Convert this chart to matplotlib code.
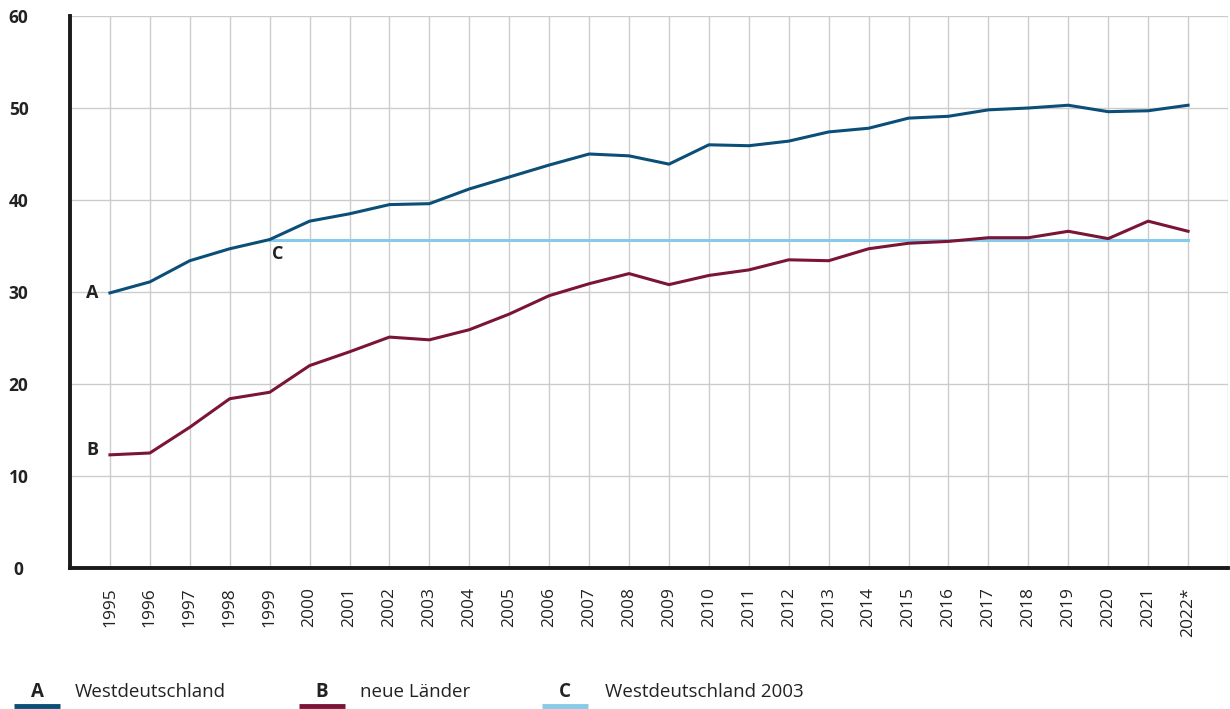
import matplotlib
matplotlib.use("Agg")
import matplotlib.pyplot as plt

plt.rcParams['font.family'] = ['Open Sans', 'DejaVu Sans']

# Jahre und Werte (Prozent)
years = list(range(1995, 2023))
year_labels = [str(y) for y in years[:-1]] + ["2022*"]

west = [29.9, 31.1, 33.4, 34.7, 35.7, 37.7, 38.5, 39.5, 39.6, 41.2,
        42.5, 43.8, 45.0, 44.8, 43.9, 46.0, 45.9, 46.4, 47.4, 47.8,
        48.9, 49.1, 49.8, 50.0, 50.3, 49.6, 49.7, 50.3]
neue_laender = [12.3, 12.5, 15.3, 18.4, 19.1, 22.0, 23.5, 25.1, 24.8, 25.9,
                27.6, 29.6, 30.9, 32.0, 30.8, 31.8, 32.4, 33.5, 33.4, 34.7,
                35.3, 35.5, 35.9, 35.9, 36.6, 35.8, 37.7, 36.6]
ref_start = 1999
ref_value = 35.6

yticks = [0, 10, 20, 30, 40, 50, 60]

col_a = '#0b4f78'
col_b = '#7b1535'
col_c = '#86cbea'
txt = '#222222'

fig = plt.figure(figsize=(12.3, 7.09), dpi=100)
ax = fig.add_axes([70 / 1230, 1 - 568 / 709, 1158 / 1230, 552 / 709])

ref_years = [y for y in years if y >= ref_start]
ax.plot(ref_years, [ref_value] * len(ref_years), color=col_c, lw=2.2, zorder=3)
ax.plot(years, west, color=col_a, lw=2.2, zorder=4)
ax.plot(years, neue_laender, color=col_b, lw=2.2, zorder=4)

ax.set_xlim(1994, 2023)
ax.set_ylim(0, 60)
ax.set_xticks(years + [2023])
ax.set_xticklabels(year_labels + [""], rotation=90, fontsize=12.5, color=txt)
ax.set_yticks(yticks)
ax.set_yticklabels([str(v) for v in yticks], fontsize=12.5, fontweight='bold',
                   color=txt, ha='center')
ax.tick_params(axis='x', length=0, pad=14)
ax.tick_params(axis='y', length=0, pad=37)
for lbl in ax.get_xticklabels():
    lbl.set_va('top')

ax.grid(True, color='#cccccc', lw=1)
ax.set_axisbelow(True)
for side in ['top', 'right']:
    ax.spines[side].set_visible(False)
for side in ['left', 'bottom']:
    ax.spines[side].set_linewidth(2.8)
    ax.spines[side].set_color('#1a1a1a')

# Kennbuchstaben an den Linien
ax.text(1994.55, west[0], "A", fontsize=13, fontweight='bold', color=txt,
        ha='center', va='center')
ax.text(1994.55, neue_laender[0] + 0.5, "B", fontsize=13, fontweight='bold',
        color=txt, ha='center', va='center')
ax.text(1999.2, ref_value - 1.5, "C", fontsize=13, fontweight='bold', color=txt,
        ha='center', va='center')

# Legende unten
legend_items = [("A", "Westdeutschland", col_a, 37, 75),
                ("B", "neue Länder", col_b, 322, 360),
                ("C", "Westdeutschland 2003", col_c, 565, 605)]
for letter, label, col, lx, tx in legend_items:
    fig.text(lx / 1230, 1 - 692 / 709, letter, fontsize=13.5, fontweight='bold',
             color=txt, ha='center', va='center')
    fig.text(tx / 1230, 1 - 692 / 709, label, fontsize=13.5, color=txt,
             ha='left', va='center')
    fig.add_artist(plt.Line2D([(lx - 23) / 1230, (lx + 23) / 1230],
                              [1 - 706 / 709] * 2, color=col, lw=3.5,
                              solid_capstyle='butt'))

fig.savefig("out.png", dpi=100)
